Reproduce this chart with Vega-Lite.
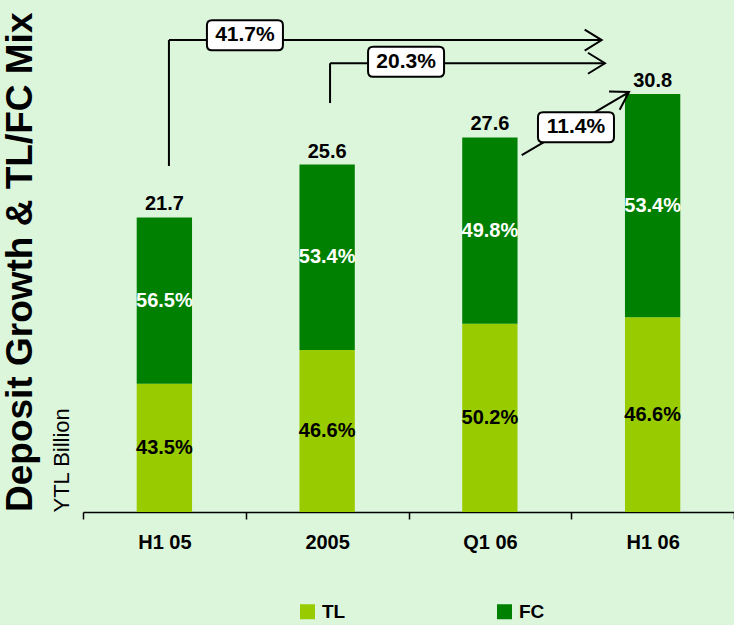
{
  "$schema": "https://vega.github.io/schema/vega-lite/v6.json",
  "width": 651,
  "height": 509,
  "autosize": {"type": "none"},
  "padding": {"left": 83, "top": 3, "right": 0, "bottom": 113},
  "background": "#DCF6DC",
  "config": {"font": "Liberation Sans", "view": {"stroke": null}},
  "title": {
    "text": "Deposit Growth & TL/FC Mix",
    "orient": "left",
    "anchor": "start",
    "frame": "group",
    "fontSize": 37,
    "fontWeight": "bold",
    "color": "black",
    "offset": 10
  },
  "datasets": {
    "deposits": [
      {"period": "H1 05", "type": "TL", "value": 9.44, "share": 0.435},
      {"period": "H1 05", "type": "FC", "value": 12.26, "share": 0.565},
      {"period": "2005", "type": "TL", "value": 11.93, "share": 0.466},
      {"period": "2005", "type": "FC", "value": 13.67, "share": 0.534},
      {"period": "Q1 06", "type": "TL", "value": 13.86, "share": 0.502},
      {"period": "Q1 06", "type": "FC", "value": 13.74, "share": 0.498},
      {"period": "H1 06", "type": "TL", "value": 14.35, "share": 0.466},
      {"period": "H1 06", "type": "FC", "value": 16.45, "share": 0.534}
    ],
    "growth": [
      {"label": "41.7%", "gx": 0.995, "gy": 35.12},
      {"label": "20.3%", "gx": 1.985, "gy": 33.18},
      {"label": "11.4%", "gx": 3.029, "gy": 28.34}
    ],
    "legs": [
      {"x0": 0.528, "y0": 25.49, "x1": 0.528, "y1": 34.77},
      {"x0": 1.518, "y0": 30.13, "x1": 1.518, "y1": 33.06}
    ],
    "arrows": [
      {"x0": 0.528, "y0": 34.77, "x1": 3.187, "y1": 34.77, "kind": "flat"},
      {"x0": 1.518, "y0": 33.06, "x1": 3.207, "y1": 33.06, "kind": "flat"},
      {"x0": 2.696, "y0": 26.3, "x1": 3.355, "y1": 30.94, "kind": "rising"}
    ]
  },
  "layer": [
    {
      "data": {"name": "deposits"},
      "encoding": {
        "x": {
          "field": "period",
          "type": "nominal",
          "sort": ["H1 05", "2005", "Q1 06", "H1 06"],
          "scale": {"paddingInner": 0, "paddingOuter": 0},
          "axis": {
            "title": null,
            "labelAngle": 0,
            "labelFontSize": 20,
            "labelFontWeight": "bold",
            "labelColor": "black",
            "labelPadding": 13,
            "tickBand": "extent",
            "tickSize": 7,
            "tickColor": "black",
            "tickWidth": 1.5,
            "domainColor": "black",
            "domainWidth": 1.5,
            "grid": false
          }
        }
      },
      "layer": [
        {
          "mark": {"type": "bar", "width": {"band": 0.34}},
          "encoding": {
            "y": {
              "field": "value",
              "type": "quantitative",
              "stack": "zero",
              "scale": {"domain": [0, 37.5], "nice": false},
              "axis": {
                "title": "YTL Billion",
                "titleFontSize": 22,
                "titleFontWeight": "normal",
                "titleColor": "black",
                "titleAnchor": "start",
                "titlePadding": 10,
                "domain": false,
                "ticks": false,
                "labels": false,
                "grid": false
              }
            },
            "color": {
              "field": "type",
              "type": "nominal",
              "scale": {"domain": ["TL", "FC"], "range": ["#99CC00", "#008000"]},
              "legend": {
                "orient": "none",
                "legendX": 215,
                "legendY": 599,
                "direction": "horizontal",
                "title": null,
                "symbolType": "square",
                "symbolSize": 225,
                "symbolStrokeWidth": 0,
                "symbolOpacity": 1,
                "labelFontSize": 19,
                "labelFontWeight": "bold",
                "labelColor": "black",
                "labelOffset": 5,
                "columnPadding": 149,
                "padding": 0
              }
            },
            "order": {"field": "type", "sort": "descending"}
          }
        },
        {
          "mark": {"type": "text", "fontSize": 20, "fontWeight": "bold"},
          "encoding": {
            "y": {
              "field": "value",
              "type": "quantitative",
              "stack": "zero",
              "bandPosition": 0.5,
              "scale": {"domain": [0, 37.5], "nice": false}
            },
            "detail": {"field": "type"},
            "order": {"field": "type", "sort": "descending"},
            "text": {"field": "share", "type": "quantitative", "format": ".1%"},
            "color": {"condition": {"test": "datum.type === 'FC'", "value": "white"}, "value": "black"}
          }
        },
        {
          "mark": {"type": "text", "fontSize": 20, "fontWeight": "bold", "color": "black", "dy": -13},
          "encoding": {
            "y": {
              "aggregate": "sum",
              "field": "value",
              "type": "quantitative",
              "scale": {"domain": [0, 37.5], "nice": false}
            },
            "text": {"aggregate": "sum", "field": "value", "type": "quantitative", "format": ".1f"}
          }
        }
      ]
    },
    {
      "layer": [
        {
          "data": {"name": "legs"},
          "mark": {"type": "rule", "stroke": "black", "strokeWidth": 2},
          "encoding": {
            "x": {"field": "x0", "type": "quantitative", "scale": {"domain": [0, 4], "nice": false, "zero": false}, "axis": null},
            "x2": {"field": "x1"},
            "y": {"field": "y0", "type": "quantitative", "scale": {"domain": [0, 37.5], "nice": false}, "axis": null},
            "y2": {"field": "y1"}
          }
        },
        {
          "data": {"name": "arrows"},
          "mark": {"type": "rule", "stroke": "black", "strokeWidth": 2},
          "encoding": {
            "x": {"field": "x0", "type": "quantitative", "scale": {"domain": [0, 4], "nice": false, "zero": false}, "axis": null},
            "x2": {"field": "x1"},
            "y": {"field": "y0", "type": "quantitative", "scale": {"domain": [0, 37.5], "nice": false}, "axis": null},
            "y2": {"field": "y1"}
          }
        },
        {
          "data": {"name": "arrows"},
          "transform": [{"filter": "datum.kind === 'flat'"}],
          "mark": {
            "type": "point",
            "shape": "M-17,-10.5L0,0L-17,10.5",
            "size": 4,
            "filled": false,
            "stroke": "black",
            "strokeWidth": 2,
            "opacity": 1,
            "angle": 0
          },
          "encoding": {
            "x": {"field": "x1", "type": "quantitative", "scale": {"domain": [0, 4], "nice": false, "zero": false}, "axis": null},
            "y": {"field": "y1", "type": "quantitative", "scale": {"domain": [0, 37.5], "nice": false}, "axis": null}
          }
        },
        {
          "data": {"name": "arrows"},
          "transform": [{"filter": "datum.kind === 'rising'"}],
          "mark": {
            "type": "point",
            "shape": "M-17,-10.5L0,0L-17,10.5",
            "size": 4,
            "filled": false,
            "stroke": "black",
            "strokeWidth": 2,
            "opacity": 1,
            "angle": 329.6
          },
          "encoding": {
            "x": {"field": "x1", "type": "quantitative", "scale": {"domain": [0, 4], "nice": false, "zero": false}, "axis": null},
            "y": {"field": "y1", "type": "quantitative", "scale": {"domain": [0, 37.5], "nice": false}, "axis": null}
          }
        },
        {
          "data": {"name": "growth"},
          "mark": {
            "type": "point",
            "shape": "M-33,-15L33,-15Q38,-15 38,-10L38,10Q38,15 33,15L-33,15Q-38,15 -38,10L-38,-10Q-38,-15 -33,-15Z",
            "size": 4,
            "filled": true,
            "fill": "white",
            "stroke": "black",
            "strokeWidth": 2,
            "opacity": 1
          },
          "encoding": {
            "x": {"field": "gx", "type": "quantitative", "scale": {"domain": [0, 4], "nice": false, "zero": false}, "axis": null},
            "y": {"field": "gy", "type": "quantitative", "scale": {"domain": [0, 37.5], "nice": false}, "axis": null}
          }
        },
        {
          "data": {"name": "growth"},
          "mark": {"type": "text", "fontSize": 21, "fontWeight": "bold", "color": "black"},
          "encoding": {
            "x": {"field": "gx", "type": "quantitative", "scale": {"domain": [0, 4], "nice": false, "zero": false}, "axis": null},
            "y": {"field": "gy", "type": "quantitative", "scale": {"domain": [0, 37.5], "nice": false}, "axis": null},
            "text": {"field": "label"}
          }
        }
      ]
    }
  ],
  "resolve": {"scale": {"x": "independent"}, "axis": {"x": "independent", "y": "independent"}}
}
